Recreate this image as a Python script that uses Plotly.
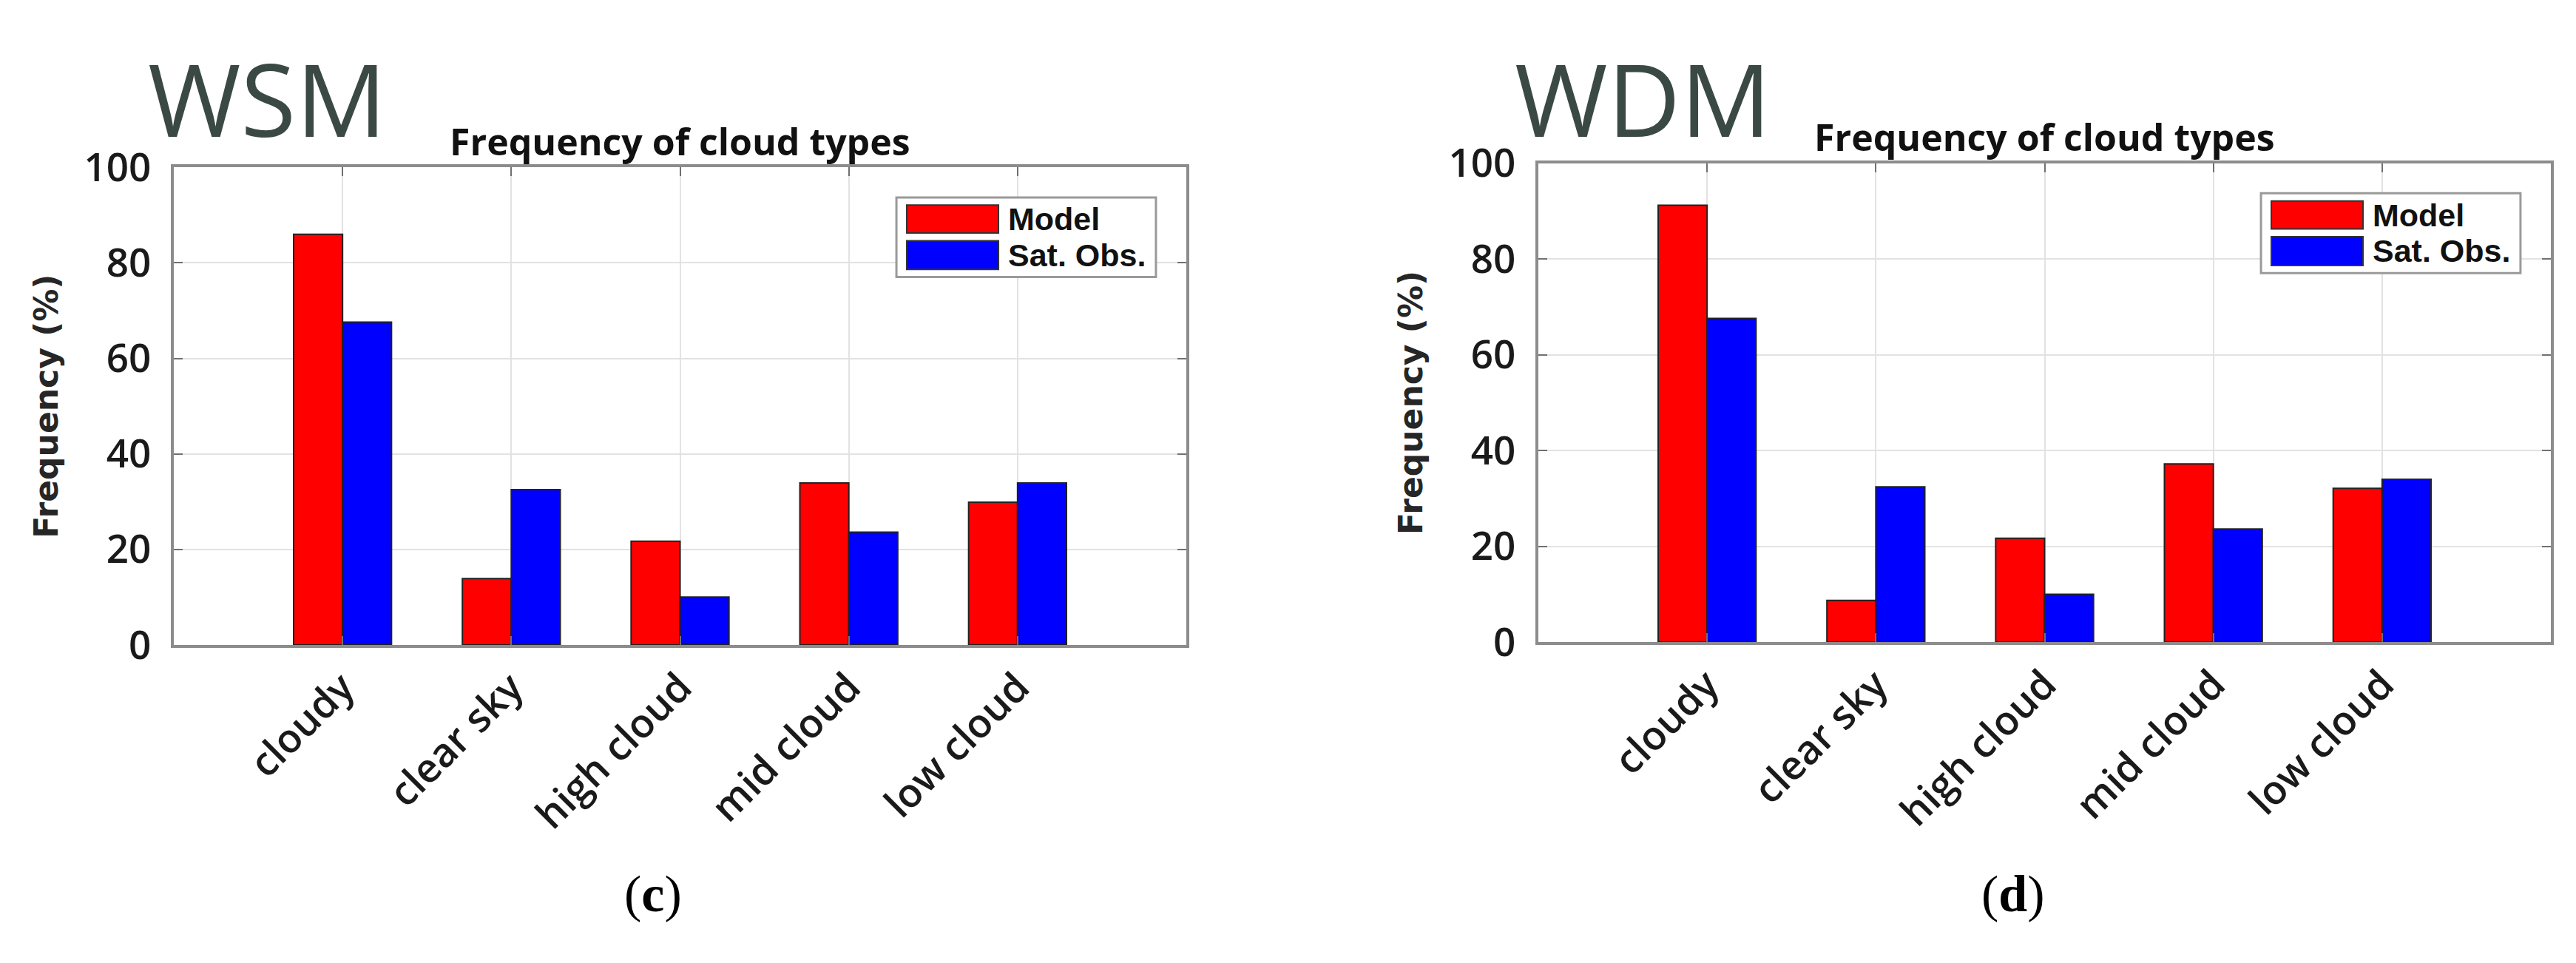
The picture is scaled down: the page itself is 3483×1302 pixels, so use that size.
import plotly.graph_objects as go

# ---------------- data ----------------
categories = ["cloudy", "clear sky", "high cloud", "mid cloud", "low cloud"]
cat_pos = [1, 2, 3, 4, 5]
wsm_model = [86.0, 13.9, 21.7, 33.9, 29.9]
wsm_sat = [67.6, 32.5, 10.0, 23.6, 33.9]
wdm_model = [91.2, 8.7, 21.7, 37.2, 32.1]
wdm_sat = [67.6, 32.4, 10.0, 23.6, 34.0]
y_ticks = [0, 20, 40, 60, 80, 100]
series_names = ["Model", "Sat. Obs."]
series_colors = ["#ff0000", "#0000ff"]
panel_names = ["WSM", "WDM"]
panel_letters = ["c", "d"]

W, H = 3483, 1302
fig = go.Figure()

panels = [("x", "y", wsm_model, wsm_sat), ("x2", "y2", wdm_model, wdm_sat)]
for xa, ya, mod, sat in panels:
    for name, vals, col in zip(series_names, [mod, sat], series_colors):
        fig.add_trace(go.Bar(
            x=cat_pos, y=vals, name=name, xaxis=xa, yaxis=ya,
            marker=dict(color=col, line=dict(color="#222222", width=2)),
            showlegend=False,
        ))

tick_font = dict(family="Open Sans", size=54, color="#1a1a1a", weight=600)
xcommon = dict(
    range=[0, 6], tickmode="array", tickvals=cat_pos, ticktext=categories,
    tickangle=-45, showgrid=True, gridcolor="#e2e2e2", gridwidth=2,
    showline=True, linecolor="#8c8c8c", linewidth=4, mirror="allticks",
    ticks="inside", ticklen=12, tickcolor="#707070", tickwidth=2,
    tickfont=tick_font, zeroline=False, fixedrange=True,
)
ycommon = dict(
    range=[0, 100], tickmode="array", tickvals=y_ticks,
    showgrid=True, gridcolor="#e2e2e2", gridwidth=2,
    showline=True, linecolor="#8c8c8c", linewidth=4, mirror="allticks",
    ticks="inside", ticklen=12, tickcolor="#707070", tickwidth=2,
    tickfont=dict(family="Open Sans", size=53, color="#1a1a1a", weight=600),
    ticklabelstandoff=16,
    zeroline=False, fixedrange=True,
    title=dict(text="Frequency (%)",
               font=dict(family="DejaVu Sans", size=44, color="#262626", weight="bold"),
               standoff=22),
)

# axes placement (pixel boxes of each plot area)
boxes = [(227, 1596, 191, 875), (2072, 3441, 185, 871)]
dx = [[b[0] / W, b[1] / W] for b in boxes]
dy = [[1 - b[3] / H, 1 - b[2] / H] for b in boxes]

fig.update_layout(
    width=W, height=H, autosize=False,
    margin=dict(l=0, r=0, t=0, b=0),
    paper_bgcolor="white", plot_bgcolor="white",
    barmode="group", bargap=0.42, bargroupgap=0.0,
    xaxis=dict(domain=dx[0], anchor="y", **xcommon),
    yaxis=dict(domain=dy[0], anchor="x", **ycommon),
    xaxis2=dict(domain=dx[1], anchor="y2", **xcommon),
    yaxis2=dict(domain=dy[1], anchor="x2", **ycommon),
    showlegend=False,
)

annotations = []
shapes = []
big_x = [190, 2038]
letter_x = [875, 2714]
for i, (xa, ya) in enumerate([("x", "y"), ("x2", "y2")]):
    xr, yr = xa + " domain", ya + " domain"
    # big model name
    annotations.append(dict(
        text=panel_names[i], xref="paper", yref="paper",
        x=big_x[i] / W, y=1 - 92 / H, xanchor="left", yanchor="middle",
        showarrow=False,
        font=dict(family="Open Sans", size=136, color="#3b4945"),
    ))
    # subplot title
    annotations.append(dict(
        text="Frequency of cloud types", xref=xr, yref=yr,
        x=0.5, y=1.055, xanchor="center", yanchor="middle", showarrow=False,
        font=dict(family="Open Sans", size=50, color="#111111", weight="bold"),
    ))
    # panel letter
    annotations.append(dict(
        text="(<b>%s</b>)" % panel_letters[i], xref="paper", yref="paper",
        x=letter_x[i] / W, y=1 - 1232 / H, xanchor="center", yanchor="middle",
        showarrow=False,
        font=dict(family="Liberation Serif", size=70, color="#000000"),
    ))
    # legend (drawn box)
    shapes.append(dict(type="rect", xref=xr, yref=yr, x0=0.7137, x1=0.9700,
                       y0=0.7705, y1=0.9371, fillcolor="white",
                       line=dict(color="#9a9a9a", width=3), layer="above"))
    sw_y = [(0.8626, 0.9211), (0.7865, 0.8465)]
    txt_y = [0.8918, 0.8165]
    for k in range(2):
        shapes.append(dict(type="rect", xref=xr, yref=yr, x0=0.7239, x1=0.8145,
                           y0=sw_y[k][0], y1=sw_y[k][1], fillcolor=series_colors[k],
                           line=dict(color="#333333", width=2), layer="above"))
        annotations.append(dict(
            text=series_names[k], xref=xr, yref=yr, x=0.8225, y=txt_y[k],
            xanchor="left", yanchor="middle", showarrow=False,
            font=dict(family="Liberation Sans", size=43, color="#111111", weight="bold"),
        ))

fig.update_layout(annotations=annotations, shapes=shapes)
fig.write_html("out.html")
